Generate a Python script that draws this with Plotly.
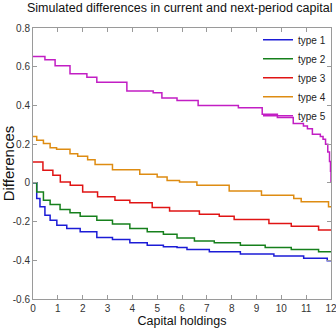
import plotly.graph_objects as go

# Capital holdings (x) and simulated differences (y) for each household type
x_type1 = [0, 0.15, 0.28, 0.48, 0.69, 0.96, 1.36, 1.9, 2.57, 3.2, 3.9, 4.6, 5.25, 5.8, 6.2, 7.1, 8.35, 9.7, 10.9, 11.85, 12]
y_type1 = [0, -0.081, -0.124, -0.167, -0.193, -0.219, -0.236, -0.253, -0.282, -0.292, -0.31, -0.322, -0.33, -0.334, -0.344, -0.356, -0.368, -0.378, -0.39, -0.403, -0.403]

x_type2 = [0, 0.15, 0.42, 0.69, 1.09, 1.49, 1.9, 2.57, 3.2, 3.9, 4.6, 5.25, 5.8, 6.5, 7.3, 8.35, 9.35, 10.4, 11.5, 12]
y_type2 = [0, -0.047, -0.09, -0.112, -0.138, -0.155, -0.172, -0.193, -0.213, -0.236, -0.253, -0.265, -0.285, -0.3, -0.31, -0.322, -0.334, -0.344, -0.356, -0.356]

x_type3 = [0, 0.4, 0.8, 1.1, 1.5, 2.0, 2.6, 3.3, 3.9, 4.8, 5.5, 6.7, 7.5, 8.1, 9.5, 10.4, 11.5, 12]
y_type3 = [0.108, 0.065, 0.039, 0.005, -0.012, -0.047, -0.072, -0.09, -0.103, -0.127, -0.145, -0.162, -0.172, -0.189, -0.21, -0.224, -0.244, -0.244]

x_type4 = [0, 0.15, 0.42, 0.69, 0.95, 1.49, 1.8, 2.2, 2.5, 3.2, 4.3, 5.0, 5.4, 5.9, 6.6, 7.9, 9.2, 10.5, 10.8, 11.9, 12]
y_type4 = [0.24, 0.22, 0.203, 0.182, 0.174, 0.151, 0.137, 0.12, 0.095, 0.068, 0.045, 0.03, 0.012, 0.005, -0.012, -0.042, -0.064, -0.081, -0.098, -0.124, -0.124]

x_type5 = [0, 0.48, 0.89, 1.49, 2.17, 2.57, 3.78, 4.84, 5.19, 5.8, 6.65, 8.27, 9.23, 9.84, 10.48, 10.89, 11.05, 11.25, 11.57, 11.68, 11.78, 11.87, 11.94, 11.98, 12]
y_type5 = [0.653, 0.636, 0.605, 0.564, 0.546, 0.52, 0.474, 0.466, 0.438, 0.426, 0.4, 0.388, 0.354, 0.337, 0.306, 0.294, 0.28, 0.251, 0.24, 0.225, 0.2, 0.16, 0.11, 0.06, 0.0]

series = [
    ("type 1", x_type1, y_type1, "#1c1cd6"),
    ("type 2", x_type2, y_type2, "#16801c"),
    ("type 3", x_type3, y_type3, "#e01414"),
    ("type 4", x_type4, y_type4, "#de8c12"),
    ("type 5", x_type5, y_type5, "#c21ec4"),
]

x_ticks = list(range(0, 13))
y_ticks = [0.8, 0.6, 0.4, 0.2, 0, -0.2, -0.4, -0.6]
y_tick_text = ["0.8", "0.6", "0.4", "0.2", "0", "-0.2", "-0.4", "-0.6"]

SANS = "Liberation Sans, Arial, sans-serif"

fig = go.Figure()
for name, xs, ys, color in series:
    fig.add_trace(go.Scatter(
        x=xs, y=ys, mode="lines", name=name,
        line=dict(color=color, width=1.5, shape="hv"),
    ))

axis_common = dict(
    showline=True, linecolor="#9a9a9a", linewidth=1, mirror="ticks",
    ticks="inside", ticklen=4, tickcolor="#9a9a9a",
    showgrid=False, zeroline=False, ticklabeloverflow="allow",
    automargin=False,
    tickfont=dict(family=SANS, size=10, color="#333333"),
)

fig.update_xaxes(range=[0, 12], tickvals=x_ticks,
                 title=dict(text="Capital holdings", font=dict(family=SANS, size=12.5, color="#111111"), standoff=3),
                 **axis_common)
fig.update_yaxes(range=[-0.6, 0.8], tickvals=y_ticks, ticktext=y_tick_text,
                 title=dict(text="Differences", font=dict(family=SANS, size=15, color="#111111"), standoff=4),
                 **axis_common)

fig.update_layout(
    width=336, height=332,
    margin=dict(l=33, r=5, t=28, b=33),
    paper_bgcolor="white", plot_bgcolor="white",
    title=dict(text="Simulated differences in current and next-period capital",
               font=dict(family=SANS, size=12.5, color="#111111"),
               x=0.535, xanchor="center", y=0.99, yanchor="top"),
    legend=dict(x=1, xanchor="right", y=1.01, yanchor="top",
                bgcolor="rgba(255,255,255,0)", borderwidth=0,
                font=dict(family=SANS, size=10, color="#222222"),
                itemwidth=30, tracegroupgap=0),
    showlegend=True,
)

fig.write_html("out.html")
